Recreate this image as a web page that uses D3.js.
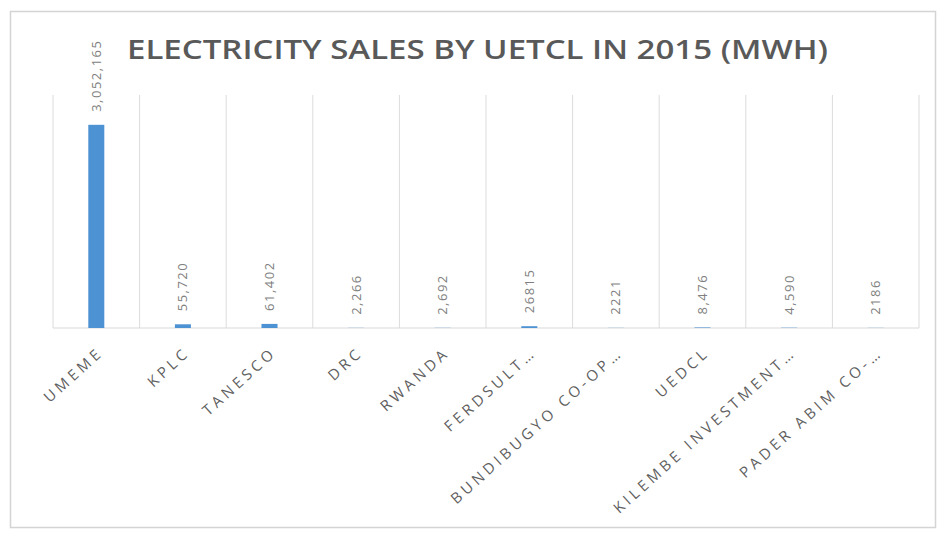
<!DOCTYPE html>
<html>
<head>
<meta charset="utf-8">
<script src="https://cdn.jsdelivr.net/npm/d3@7"></script>
<style>
  html, body { margin: 0; padding: 0; background: #fff; }
  svg { display: block; }
</style>
</head>
<body>
<svg id="chart" width="940" height="533"></svg>
<script>
const categories = ["UMEME", "KPLC", "TANESCO", "DRC", "RWANDA", "FERDSULT…", "BUNDIBUGYO CO-OP…", "UEDCL", "KILEMBE INVESTMENT…", "PADER ABIM CO-…"];
const values = [3052165, 55720, 61402, 2266, 2692, 26815, 2221, 8476, 4590, 2186];
const valueLabels = ["3,052,165", "55,720", "61,402", "2,266", "2,692", "26815", "2221", "8,476", "4,590", "2186"];
const titleText = "ELECTRICITY SALES BY UETCL IN 2015 (MWH)";
const yMax = 3500000;

const svg = d3.select("#chart");
const W = 940, H = 533;
const plot = { left: 53, right: 919, top: 95, bottom: 328 };

svg.append("rect").attr("width", W).attr("height", H).attr("fill", "#fff");
// outer frame
svg.append("rect")
  .attr("x", 10.5).attr("y", 11.5).attr("width", 925).attr("height", 516)
  .attr("fill", "#fff").attr("stroke", "#d4d4d4").attr("stroke-width", 1.5);

const x = d3.scaleBand().domain(categories).range([plot.left, plot.right]).padding(0);
const y = d3.scaleLinear().domain([0, yMax]).range([plot.bottom, plot.top]);

// vertical gridlines at category boundaries
const bounds = categories.map(c => x(c)).concat([x(categories[categories.length - 1]) + x.bandwidth()]);
svg.append("g").selectAll("line").data(bounds).join("line")
  .attr("x1", d => d).attr("x2", d => d)
  .attr("y1", plot.top).attr("y2", plot.bottom)
  .attr("stroke", "#dcdcdc").attr("stroke-width", 1);

// baseline
svg.append("line")
  .attr("x1", plot.left).attr("x2", plot.right)
  .attr("y1", y(0)).attr("y2", y(0))
  .attr("stroke", "#d9d9d9").attr("stroke-width", 1);

// bars
const barW = x.bandwidth() * 0.185;
svg.append("g").selectAll("rect").data(values).join("rect")
  .attr("x", (d, i) => x(categories[i]) + x.bandwidth() / 2 - barW / 2)
  .attr("width", barW)
  .attr("y", d => y(d))
  .attr("height", d => y(0) - y(d))
  .attr("fill", "#4d92d3");

// value labels (rotated)
svg.append("g").selectAll("text").data(values).join("text")
  .attr("transform", (d, i) => {
    const cx = x(categories[i]) + x.bandwidth() / 2;
    return `translate(${cx + 4.5},${y(d) - 13}) rotate(-90)`;
  })
  .attr("text-anchor", "start")
  .attr("font-family", "'Open Sans', sans-serif")
  .attr("font-size", 13)
  .attr("letter-spacing", 1.5)
  .attr("fill", "#808080")
  .text((d, i) => valueLabels[i]);

// category labels
svg.append("g").selectAll("text").data(categories).join("text")
  .attr("transform", c => {
    const cx = x(c) + x.bandwidth() / 2;
    return `translate(${cx + 8},${plot.bottom + 26}) rotate(-42)`;
  })
  .attr("text-anchor", "end")
  .attr("font-family", "'Open Sans', sans-serif")
  .attr("font-size", 15)
  .attr("letter-spacing", 3.8)
  .attr("fill", "#5f5f5f")
  .text(c => c);

// title
svg.append("text")
  .attr("x", 127).attr("y", 59)
  .attr("font-family", "'Open Sans', sans-serif")
  .attr("font-weight", 600)
  .attr("font-size", 27)
  .attr("textLength", 701)
  .attr("lengthAdjust", "spacingAndGlyphs")
  .attr("fill", "#595959")
  .text(titleText);
</script>
</body>
</html>
